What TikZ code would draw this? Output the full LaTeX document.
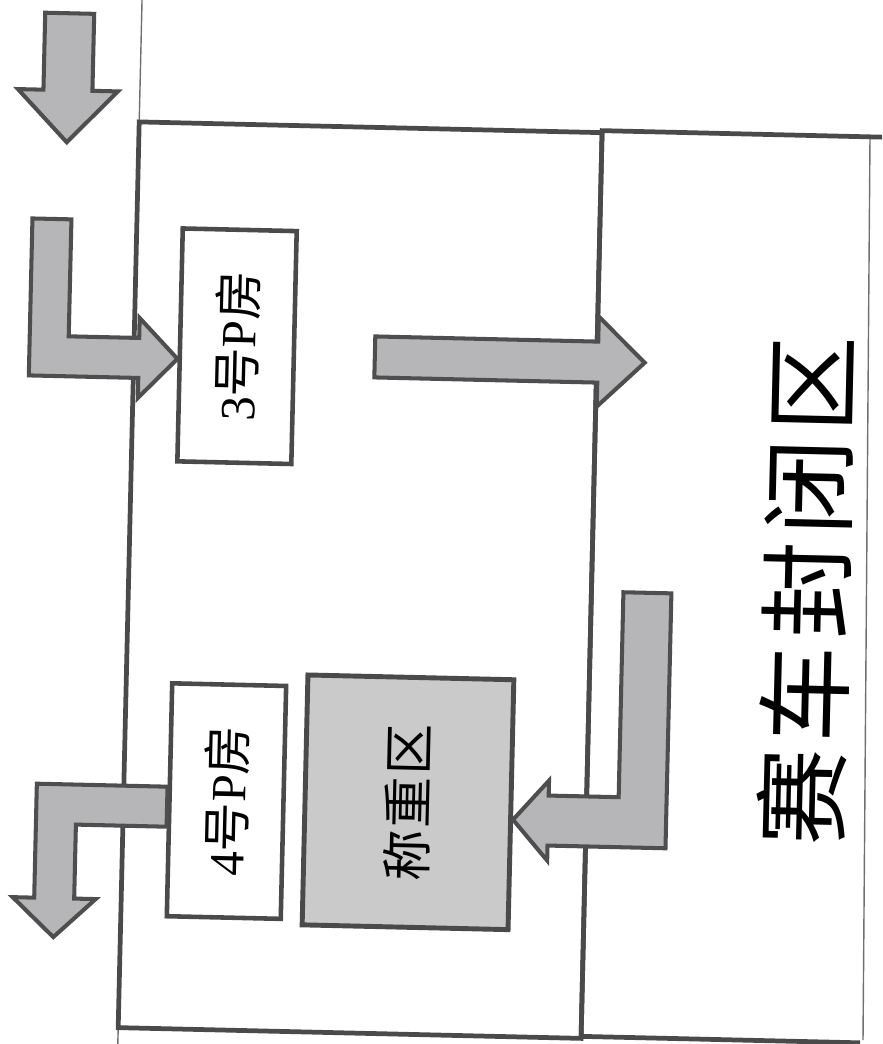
\documentclass[tikz,border=0pt]{standalone}
\usepackage{fontspec}
\setmainfont{Liberation Serif}
\newfontfamily\cjk{Noto Sans CJK SC}
\newfontfamily\midcjk[LetterSpace=4]{Noto Sans CJK SC}
\newfontfamily\bigcjk[LetterSpace=7]{Noto Sans CJK SC}
\usetikzlibrary{calc}
\definecolor{linegray}{HTML}{4A4A4A}
\definecolor{thingray}{HTML}{707070}
\definecolor{arrowfill}{HTML}{B6B6B8}
\definecolor{arrowline}{HTML}{4E4E4E}
\definecolor{weighfill}{HTML}{CACACA}
\begin{document}
\begin{tikzpicture}[x=0.02cm,y=-0.02cm,
  zoneline/.style={draw=linegray, line width=2.7pt, line join=miter},
  thinline/.style={draw=thingray, line width=0.8pt},
  roombox/.style={draw=linegray, line width=2.6pt, fill=white, inner sep=0pt,
    font=\fontsize{28}{30}\selectfont},
  weighbox/.style={draw=linegray, line width=2.8pt, fill=weighfill, inner sep=0pt,
    font=\fontsize{29}{31}\selectfont},
  blockarrow/.style={draw=arrowline, line width=2.3pt, fill=arrowfill, line join=miter},
  titletext/.style={inner sep=0pt, font=\fontsize{55}{60}\selectfont},
]
\useasboundingbox (0,0) rectangle (882,1044);
\clip (0,0) rectangle (882,1044);
\fill[white] (0,0) rectangle (882,1044);
% thin right border (page line, less skewed than the rest)
\draw[thinline] (870,137) -- (863,1040);
\begin{scope}[rotate around={-1.33:(441,522)}, transform shape]
  % zone outlines
  \draw[thinline] (130,-40) -- (130,1090);
  \draw[zoneline] (130,129) rectangle (593,1035);
  \draw[zoneline] (900,127) -- (593,127) -- (593,1033) -- (872,1033);

  % rooms and areas
  \node[roombox, minimum width=2.28cm, minimum height=4.66cm] (p3) at (233,351)
    {\rotatebox{90}{3{\cjk 号}P{\cjk 房}}};
  \node[roombox, minimum width=2.28cm, minimum height=4.66cm] (p4) at (233,806)
    {\rotatebox{90}{4{\cjk 号}P{\cjk 房}}};
  \node[weighbox, minimum width=4.12cm, minimum height=5.0cm] (wz) at (414.5,803)
    {\rotatebox{90}{\midcjk 称重区}};
  \node[titletext] (title) at (808,582) {\rotatebox{90}{\bigcjk 赛车封闭区}};

  % arrow tips
  \coordinate (a1tip) at (58,151);
  \coordinate (a2tip) at ($(p3.west)+(0,14)$);
  \coordinate (a3tip) at (641,358);
  \coordinate (a4tip) at (63,946);
  \coordinate (a5tip) at ($(wz.east)+(0,15)$);
  \coordinate (a4root) at ($(p4.west)+(0,-13)$);

  % block arrows
  \draw[blockarrow] (33.5,22) -- (82.5,22) -- (82.5,99) -- (108,99) -- (a1tip)
    -- (8,99) -- (33.5,99) -- cycle;
  \draw[blockarrow] (25.5,228) -- (64.5,228) -- (64.5,345) -- (135,345) -- (135,325)
    -- (a2tip) -- (135,405) -- (135,385) -- (25.5,385) -- cycle;
  \draw[blockarrow] (371,338) -- (594,338) -- (594,313) -- (a3tip) -- (594,403)
    -- (594,379) -- (371,379) -- cycle;
  \draw[blockarrow] (a4root) -- (43,793) -- (43,907) -- (21.5,907) -- (a4tip)
    -- (104.5,907) -- (83,907) -- (83,833) -- (a4root |- 0,833) -- cycle;
  \draw[blockarrow] (625,588) -- (673,588) -- (673,843) -- (555,843) -- (555,858)
    -- (a5tip) -- (555,778) -- (555,793) -- (625,793) -- cycle;
\end{scope}
\end{tikzpicture}
\end{document}
